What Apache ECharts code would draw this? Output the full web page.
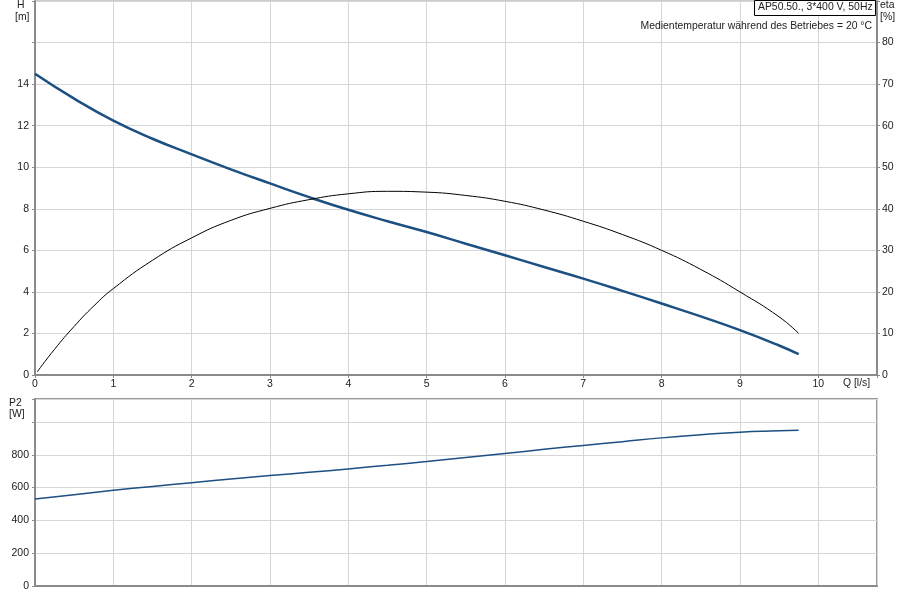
<!DOCTYPE html>
<html>
<head>
<meta charset="utf-8">
<script src="https://cdn.jsdelivr.net/npm/echarts@6/dist/echarts.min.js"></script>
<style>
  html, body { margin: 0; padding: 0; background: #fff; }
  #chart { width: 900px; height: 600px; }
</style>
</head>
<body>
<div id="chart"></div>
<script>
// flow Q [l/s] and head H [m]
var qHead = [0, 0.5, 1, 1.5, 2, 2.5, 3, 3.5, 4, 4.5, 5, 5.5, 6, 6.5, 7, 7.5, 8, 8.5, 9, 9.5, 9.75]
var head = [14.5, 13.3, 12.24, 11.37, 10.62, 9.9, 9.22, 8.56, 7.95, 7.4, 6.88, 6.32, 5.76, 5.2, 4.64, 4.05, 3.44, 2.82, 2.16, 1.42, 1.0]

// efficiency eta [%]
var qEta = [0.03, 0.25, 0.5, 0.75, 1, 1.5, 2, 2.5, 3, 3.5, 4, 4.5, 5, 5.5, 6, 6.5, 7, 7.5, 8, 8.5, 9, 9.5, 9.75]
var eta = [0.8, 6.2, 11.7, 16.6, 20.8, 27.6, 33, 37.2, 40.1, 42.2, 43.6, 44.2, 44, 43.2, 41.8, 39.7, 37, 33.8, 30, 25.4, 20, 14, 10]

// shaft power P2 [W]
var qPower = [0, 0.5, 1, 1.5, 2, 2.5, 3, 3.5, 4, 4.5, 5, 5.5, 6, 6.5, 7, 7.5, 8, 8.5, 9, 9.5, 9.75]
var power = [530, 557, 583, 607, 630, 652, 673, 693, 714, 736, 759, 783, 808, 833, 857, 880, 903, 922, 938, 946, 950]

var titleText = "AP50.50., 3*400 V, 50Hz"
var noteText = "Medientemperatur während des Betriebes = 20 °C"

function pairs(xs, ys) {
  return xs.map(function (x, i) { return [x, ys[i]] })
}

var font = "Liberation Sans, Arial, sans-serif"
var smallFont = "10.4px " + font
var txt = { fontFamily: font, fontSize: 10.5, color: "#222" }
var axLine = { show: true, lineStyle: { color: "#8a8a8a", width: 2 } }
var split = { show: true, lineStyle: { color: "#d6d6d6", width: 1 } }
var tick = { show: true, length: 3, lineStyle: { color: "#8a8a8a" } }

var chart = echarts.init(document.getElementById("chart"))

var xBase = {
  type: "value", min: 0, max: 10.75, interval: 1,
  axisLine: axLine, splitLine: split, axisTick: tick
}

function label(text, x, y, extra) {
  return Object.assign({ type: "text", left: x, top: y, z: 11, style: { text: text, font: smallFont, fill: "#222" } }, extra || {})
}

chart.setOption({
  animation: false,
  grid: [
    { left: 35, right: 23, top: 1, height: 374, show: true, borderColor: "#9a9a9a", borderWidth: 1 },
    { left: 35, right: 23, top: 399, height: 187, show: true, borderColor: "#9a9a9a", borderWidth: 2 }
  ],
  xAxis: [
    Object.assign({}, xBase, {
      gridIndex: 0,
      axisLabel: Object.assign({}, txt, { margin: 4, formatter: function (v) { return Number.isInteger(v) ? v : "" } })
    }),
    Object.assign({}, xBase, {
      gridIndex: 1, axisTick: { show: false }, axisLabel: { show: false }
    })
  ],
  yAxis: [
    {
      type: "value", gridIndex: 0, min: 0, max: 18, interval: 2,
      axisLine: axLine, splitLine: split, axisTick: tick,
      axisLabel: Object.assign({}, txt, { margin: 6, formatter: function (v) { return v > 14 ? "" : v } })
    },
    {
      type: "value", gridIndex: 0, position: "right", min: 0, max: 90, interval: 10,
      axisLine: axLine, splitLine: { show: false }, axisTick: tick,
      axisLabel: Object.assign({}, txt, { margin: 5, formatter: function (v) { return v > 80 ? "" : v } })
    },
    {
      type: "value", gridIndex: 1, min: 0, max: 1140, interval: 200,
      axisLine: axLine, splitLine: split, axisTick: tick,
      axisLabel: Object.assign({}, txt, { margin: 6, formatter: function (v) { return v > 800 ? "" : v } })
    }
  ],
  series: [
    {
      type: "line", xAxisIndex: 0, yAxisIndex: 0, data: pairs(qHead, head),
      smooth: 0.5, showSymbol: false, lineStyle: { color: "#1c4f82", width: 2.5 }
    },
    {
      type: "line", xAxisIndex: 0, yAxisIndex: 1, data: pairs(qEta, eta),
      smooth: 0.5, showSymbol: false, lineStyle: { color: "#000", width: 1 }
    },
    {
      type: "line", xAxisIndex: 1, yAxisIndex: 2, data: pairs(qPower, power),
      smooth: 0.5, showSymbol: false, lineStyle: { color: "#1c4f82", width: 1.5 }
    }
  ],
  graphic: [
    label("H", 17, 0),
    label("[m]", 15, 12),
    label("eta", 880, 0),
    label("[%]", 880, 12),
    label("P2", 9, 398),
    label("[W]", 9, 409),
    label("Q [l/s]", 843, 378),
    {
      type: "rect", left: 754, top: 0, z: 10,
      shape: { width: 121, height: 15 },
      style: { fill: "#fff", stroke: "#000", lineWidth: 1 }
    },
    label(titleText, 758, 2),
    { type: "text", right: 28, top: 21, z: 11, style: { text: noteText, font: smallFont, fill: "#222" } }
  ]
})
</script>
</body>
</html>
